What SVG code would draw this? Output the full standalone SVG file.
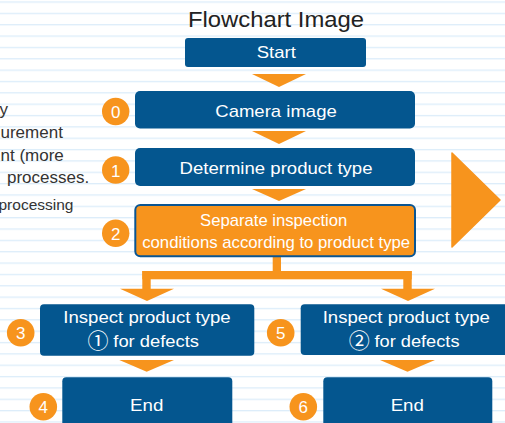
<svg xmlns="http://www.w3.org/2000/svg" width="505" height="423" viewBox="0 0 505 423">
<defs>
<pattern id="lines" x="0" y="1.4" width="20" height="11.35" patternUnits="userSpaceOnUse">
<rect x="0" y="0" width="20" height="1.3" fill="#dcedfa"/>
</pattern>
<style>
.box{fill:#04568f}
.obox{fill:#f7941d;stroke:#0a5592;stroke-width:2}
.lbl{fill:#ffffff;font-family:"Liberation Sans",Arial,"DejaVu Sans",sans-serif;text-anchor:middle;font-size:17px}
.circ{fill:#ffffff;font-family:"Noto Sans CJK JP","Noto Sans CJK SC","DejaVu Sans",sans-serif;text-anchor:middle;font-size:21px}
.badge circle{fill:#f7941d}
.badge text{fill:#ffffff;font-family:"Liberation Sans",Arial,sans-serif;font-size:17px;text-anchor:middle}
.arr{fill:#f7941d}
.side{fill:#333333;font-family:"Liberation Sans",Arial,sans-serif;font-size:17px}
.title{fill:#222222;font-family:"Liberation Sans",Arial,sans-serif;font-size:21.5px;text-anchor:middle}
</style>
</defs>
<rect x="0" y="0" width="505" height="423" fill="#ffffff"/>
<rect x="0" y="0" width="505" height="423" fill="url(#lines)"/>

<g id="side-text">
<text class="side" x="-0.5" y="115">y</text>
<text class="side" x="0.5" y="137.7">urement</text>
<text class="side" x="0.5" y="160.7">nt (more</text>
<text class="side" x="7" y="183.3">processes.</text>
<text class="side" x="-1.5" y="209.5" style="font-size:15.5px">processing</text>
</g>

<text class="title" x="276" y="27" textLength="176" lengthAdjust="spacingAndGlyphs">Flowchart Image</text>

<g id="connectors">
<polygon class="arr" points="252,74 306,74 279,87"/>
<polygon class="arr" points="252,131 306,131 279,144"/>
<polygon class="arr" points="252,189 306,189 279,201"/>
<rect class="arr" x="272.7" y="256" width="8.3" height="16"/>
<rect class="arr" x="142.3" y="271" width="269.4" height="8.3"/>
<rect class="arr" x="142.3" y="271" width="8.4" height="18"/>
<rect class="arr" x="403.3" y="271" width="8.4" height="18"/>
<polygon class="arr" points="120,288.7 174,288.7 147,301"/>
<polygon class="arr" points="381,288.7 435,288.7 408,301"/>
<polygon class="arr" points="119.3,360 174,360 146.7,371.7"/>
<polygon class="arr" points="380,360 435,360 407.5,371.7"/>
<polygon class="arr" points="452,153 500,200 452,247" stroke="#f7941d" stroke-width="1.5" stroke-linejoin="round"/>
</g>

<g id="start">
<rect class="box" x="185" y="38" width="181" height="29" rx="3"/>
<text class="lbl" x="276.3" y="57.7" style="font-size:16.5px" textLength="39" lengthAdjust="spacingAndGlyphs">Start</text>
</g>

<g id="camera">
<rect class="box" x="135" y="91" width="280" height="37.5" rx="5"/>
<text class="lbl" x="276" y="116.7" textLength="121.5" lengthAdjust="spacingAndGlyphs">Camera image</text>
</g>
<g id="badge0" class="badge"><circle cx="115.7" cy="111.5" r="13.7"/><text x="115.7" y="118">0</text></g>

<g id="determine">
<rect class="box" x="135" y="148" width="280" height="38" rx="5"/>
<text class="lbl" x="276" y="174" textLength="193" lengthAdjust="spacingAndGlyphs">Determine product type</text>
</g>
<g id="badge1" class="badge"><circle cx="115.7" cy="170" r="13.7"/><text x="115.7" y="176.5">1</text></g>

<g id="separate">
<rect class="obox" x="135.3" y="205" width="279.7" height="51.3" rx="5"/>
<text class="lbl" x="273.7" y="226" textLength="147.3" lengthAdjust="spacingAndGlyphs">Separate inspection</text>
<text class="lbl" x="276.2" y="248.3" textLength="268" lengthAdjust="spacingAndGlyphs">conditions according to product type</text>
</g>
<g id="badge2" class="badge"><circle cx="115.7" cy="233.3" r="13.7"/><text x="115.7" y="239.8">2</text></g>

<g id="inspect1">
<rect class="box" x="40" y="304.3" width="214.3" height="51.4" rx="4"/>
<text class="lbl" x="147" y="323.3" textLength="167.4" lengthAdjust="spacingAndGlyphs">Inspect product type</text>
<text class="circ" x="98" y="347.8">①</text>
<text class="lbl" x="113.3" y="346.7" style="text-anchor:start" textLength="85.7" lengthAdjust="spacingAndGlyphs">for defects</text>
</g>
<g id="badge3" class="badge"><circle cx="20.7" cy="332.7" r="13.8"/><text x="20.7" y="339.2">3</text></g>

<g id="end1">
<rect class="box" x="62.3" y="377.3" width="170" height="60" rx="4"/>
<text class="lbl" x="146.7" y="410.7" textLength="33.3" lengthAdjust="spacingAndGlyphs">End</text>
</g>
<g id="badge4" class="badge"><circle cx="43.3" cy="406.7" r="13.8"/><text x="43.3" y="413.2">4</text></g>

<g id="inspect2">
<rect class="box" x="300.7" y="304.3" width="212" height="50.7" rx="4"/>
<text class="lbl" x="406.3" y="323.3" textLength="167.3" lengthAdjust="spacingAndGlyphs">Inspect product type</text>
<text class="circ" x="359.3" y="347.8">②</text>
<text class="lbl" x="374.5" y="346.7" style="text-anchor:start" textLength="85" lengthAdjust="spacingAndGlyphs">for defects</text>
</g>
<g id="badge5" class="badge"><circle cx="280.7" cy="332.7" r="13.8"/><text x="280.7" y="339.2">5</text></g>

<g id="end2">
<rect class="box" x="323.3" y="377.3" width="169" height="60" rx="4"/>
<text class="lbl" x="407.3" y="410.7" textLength="33.3" lengthAdjust="spacingAndGlyphs">End</text>
</g>
<g id="badge6" class="badge"><circle cx="303.3" cy="406.7" r="13.8"/><text x="303.3" y="413.2">6</text></g>
</svg>
